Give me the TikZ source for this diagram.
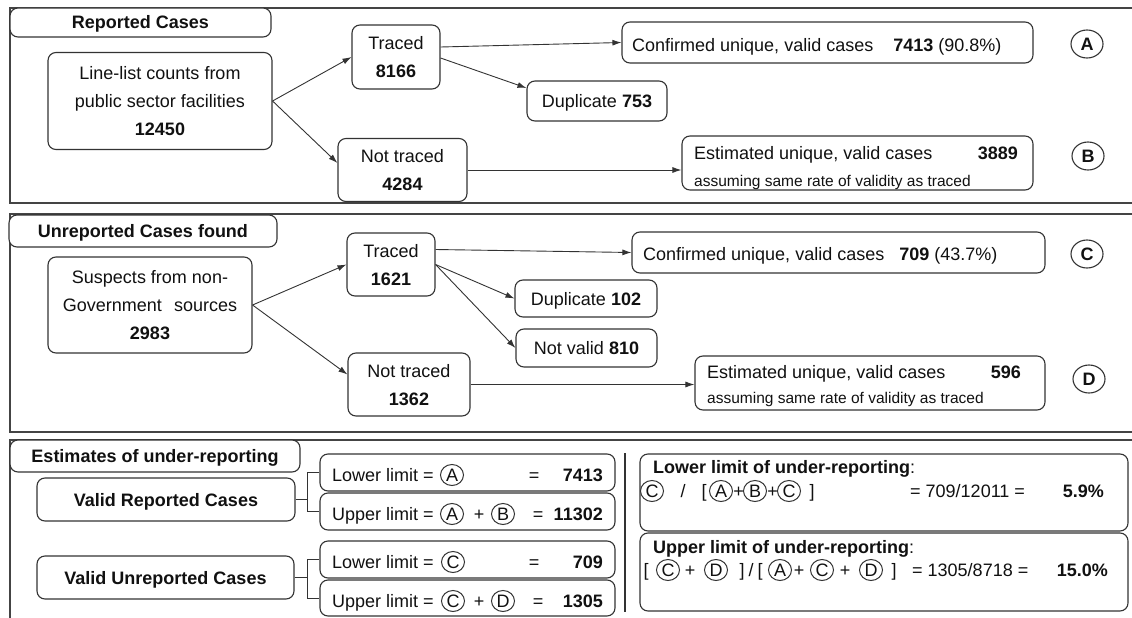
\documentclass[tikz,border=0pt]{standalone}
\usepackage{fontspec}
\setmainfont{Liberation Sans}
\usetikzlibrary{arrows.meta,shapes.geometric,calc}
\definecolor{ln}{HTML}{333333}
\definecolor{fr}{HTML}{444444}
\definecolor{tx}{HTML}{111111}
\newcommand\msz{\fontsize{18}{28}\selectfont}
\newcommand\ssz{\fontsize{15.5}{18}\selectfont}
\begin{document}
\begin{tikzpicture}[x=1pt,y=-1pt,
  frame/.style={draw=fr,line width=1.6pt},
  bx/.style={draw=ln,line width=1.1pt,rounded corners=8pt,fill=white,inner sep=0pt,align=center,font=\msz,text=tx,text height=13pt,text depth=0pt},
  twol/.style={text height=41pt},
  threel/.style={text height=69pt},
  bbx/.style={bx,font=\msz\bfseries},
  txt/.style={inner sep=0pt,font=\msz,text=tx,text height=13pt,text depth=0pt},
  stxt/.style={inner sep=0pt,font=\ssz,text=tx,text height=11pt,text depth=0pt},
  bigc/.style={ellipse,draw=ln,line width=1.1pt,minimum width=32pt,minimum height=28pt,inner sep=0pt,font=\msz\bfseries,text=tx,text height=13pt,text depth=0pt},
  smc/.style={ellipse,draw=ln,line width=1pt,minimum width=23pt,minimum height=21pt,inner sep=0pt,font=\msz,text=tx,text height=13pt,text depth=0pt},
  arr/.style={draw=ln,line width=0.9pt,-{Latex[length=9pt,width=6pt]}},
  conn/.style={draw=ln,line width=1pt},
  sepline/.style={draw=ln,line width=1.3pt}
]
\useasboundingbox (0,0) rectangle (1132,618);
\clip (0,0) rectangle (1132,618);

% ---------- Section 1 ----------
\draw[frame] (10,8) rectangle (1145,203);
\node[bbx,minimum width=261pt,minimum height=29pt] (t1) at (140.5,22.5) {Reported Cases};
\node[bx,threel,minimum width=224pt,minimum height=97pt] (ll) at (160,101) {Line-list counts from\\public sector facilities\\\textbf{12450}};
\node[bx,twol,minimum width=88pt,minimum height=64pt] (tr1) at (396,57) {Traced\\\textbf{8166}};
\node[bx,twol,minimum width=129pt,minimum height=63pt] (nt1) at (402.5,170) {Not traced\\\textbf{4284}};
\node[bx,minimum width=411pt,minimum height=41pt] (cf1) at (827.5,42.5) {};
\node[txt,anchor=west] (cf1t) at (632,45.5) {Confirmed unique, valid cases\hspace{15pt} \textbf{7413} (90.8\%)};
\node[bx,minimum width=140pt,minimum height=40pt] (dp1) at (597,101) {Duplicate \textbf{753}};
\node[bx,minimum width=351pt,minimum height=54pt] (es1) at (857.5,163) {};
\node[txt,anchor=west] (es1a) at (694,153) {Estimated unique, valid cases};
\node[txt,anchor=east] (es1b) at (1018,153) {\textbf{3889}};
\node[stxt,anchor=west] (es1c) at (694,180.5) {assuming same rate of validity as traced};
\node[bigc] (cA) at (1087,44) {A};
\node[bigc] (cB) at (1088,156) {B};

\draw[arr] (ll.east) -- (tr1.west);
\draw[arr] (ll.east) -- ($(nt1.west)+(0,-7)$);
\draw[arr] ($(tr1.east)+(0,-10)$) -- (cf1.west);
\draw[arr] ($(tr1.east)+(0,1)$) -- ($(dp1.west)+(0,-13)$);
\draw[arr] (nt1.east) -- (nt1.east -| es1.west);

% ---------- Section 2 ----------
\draw[frame] (10,214) rectangle (1145,432);
\node[bbx,minimum width=268pt,minimum height=32pt] (t2) at (143,231) {Unreported Cases found};
\node[bx,threel,minimum width=204pt,minimum height=96pt] (sp) at (150,305) {Suspects from non-\\Government\hspace{0.4em} sources\\\textbf{2983}};
\node[bx,twol,minimum width=88pt,minimum height=63pt] (tr2) at (391,264.5) {Traced\\\textbf{1621}};
\node[bx,twol,minimum width=122pt,minimum height=63pt] (nt2) at (409,384.5) {Not traced\\\textbf{1362}};
\node[bx,minimum width=413pt,minimum height=41pt] (cf2) at (838.5,252.5) {};
\node[txt,anchor=west] (cf2t) at (643,254) {Confirmed unique, valid cases\hspace{10pt} \textbf{709} (43.7\%)};
\node[bx,minimum width=142pt,minimum height=37pt] (dp2) at (586,298.5) {Duplicate \textbf{102}};
\node[bx,minimum width=141pt,minimum height=38pt] (nv) at (586.5,348) {Not valid \textbf{810}};
\node[bx,minimum width=350pt,minimum height=54pt] (es2) at (870,383) {};
\node[txt,anchor=west] (es2a) at (707,372) {Estimated unique, valid cases};
\node[txt,anchor=east] (es2b) at (1021,372) {\textbf{596}};
\node[stxt,anchor=west] (es2c) at (707,397.5) {assuming same rate of validity as traced};
\node[bigc] (cC) at (1087,254) {C};
\node[bigc] (cD) at (1089,379) {D};

\draw[arr] (sp.east) -- (tr2.west);
\draw[arr] (sp.east) -- ($(nt2.west)+(0,-10)$);
\draw[arr] ($(tr2.east)+(0,-15)$) -- (cf2.west);
\draw[arr] (tr2.east) -- (dp2.west);
\draw[arr] (tr2.east) -- (nv.west);
\draw[arr] (nt2.east) -- (nt2.east -| es2.west);

% ---------- Section 3 ----------
\draw[frame] (10,440) rectangle (1145,640);
\node[bbx,minimum width=290pt,minimum height=32pt] (t3) at (155,456) {Estimates of under-reporting};
\node[bbx,minimum width=258pt,minimum height=43pt] (vrc) at (166,499.5) {Valid Reported Cases};
\node[bbx,minimum width=257pt,minimum height=43pt] (vuc) at (165.5,577.5) {Valid Unreported Cases};
\node[bx,minimum width=295pt,minimum height=37pt] (l1) at (467.5,472.5) {};
\node[bx,minimum width=295pt,minimum height=37pt] (u1) at (467.5,511.5) {};
\node[bx,minimum width=295pt,minimum height=37pt] (l2) at (467.5,559.5) {};
\node[bx,minimum width=295pt,minimum height=36pt] (u2) at (467.5,598) {};

\draw[conn] (vrc.east) -- ++(12,0) |- (l1.west);
\draw[conn] (vrc.east) -- ++(12,0) |- (u1.west);
\draw[conn] (vuc.east) -- ++(13,0) |- (l2.west);
\draw[conn] (vuc.east) -- ++(13,0) |- (u2.west);

% row 1
\node[txt,anchor=west] (r1a) at (332,475) {Lower limit =};
\node[smc] (r1A) at (452,475) {A};
\node[txt] (r1e) at (534,475) {=};
\node[txt,anchor=east] (r1v) at (603,475) {\textbf{7413}};
% row 2
\node[txt,anchor=west] (r2a) at (332,514) {Upper limit =};
\node[smc] (r2A) at (452,514) {A};
\node[txt] (r2p) at (479,514) {+};
\node[smc] (r2B) at (503,514) {B};
\node[txt] (r2e) at (538,514) {=};
\node[txt,anchor=east] (r2v) at (603,514) {\textbf{11302}};
% row 3
\node[txt,anchor=west] (r3a) at (332,562) {Lower limit =};
\node[smc] (r3C) at (453,562) {C};
\node[txt] (r3e) at (534,562) {=};
\node[txt,anchor=east] (r3v) at (603,562) {\textbf{709}};
% row 4
\node[txt,anchor=west] (r4a) at (332,601) {Upper limit =};
\node[smc] (r4C) at (453,601) {C};
\node[txt] (r4p) at (479,601) {+};
\node[smc] (r4D) at (503,601) {D};
\node[txt] (r4e) at (538,601) {=};
\node[txt,anchor=east] (r4v) at (603,601) {\textbf{1305}};

\draw[sepline] (625,453) -- (625,612);

\node[bx,minimum width=488pt,minimum height=77pt] (lo) at (884,492.5) {};
\node[bx,minimum width=488pt,minimum height=78pt] (up) at (884,572) {};
\node[txt,anchor=west] (lot) at (653,466.5) {\textbf{Lower limit of under-reporting}:};
\node[txt,anchor=west] (upt) at (653,546.5) {\textbf{Upper limit of under-reporting}:};

% formula 1
\node[smc] (f1C) at (652,491) {C};
\node[txt] (f1s) at (683,491) {/};
\node[txt] (f1o) at (704,491) {[};
\node[smc] (f1A) at (721,491) {A};
\node[txt] (f1p1) at (738.5,491) {+};
\node[smc] (f1B) at (755,491) {B};
\node[txt] (f1p2) at (772.5,491) {+};
\node[smc] (f1C2) at (789,491) {C};
\node[txt] (f1c) at (812,491) {]};
\node[txt,anchor=west] (f1r) at (910,491) {= 709/12011 =};
\node[txt,anchor=east] (f1v) at (1104,491) {\textbf{5.9\%}};

% formula 2
\node[txt] (f2o1) at (646,570) {[};
\node[smc] (f2C) at (668,570) {C};
\node[txt] (f2p1) at (690,570) {+};
\node[smc] (f2D) at (716,570) {D};
\node[txt] (f2c1) at (742,570) {]};
\node[txt] (f2s) at (751,570) {/};
\node[txt] (f2o2) at (760,570) {[};
\node[smc] (f2A) at (780,570) {A};
\node[txt] (f2p2) at (799,570) {+};
\node[smc] (f2C2) at (822,570) {C};
\node[txt] (f2p3) at (845,570) {+};
\node[smc] (f2D2) at (871,570) {D};
\node[txt] (f2c2) at (894,570) {]};
\node[txt,anchor=west] (f2r) at (912,570) {= 1305/8718 =};
\node[txt,anchor=east] (f2v) at (1108,570) {\textbf{15.0\%}};
\end{tikzpicture}
\end{document}
